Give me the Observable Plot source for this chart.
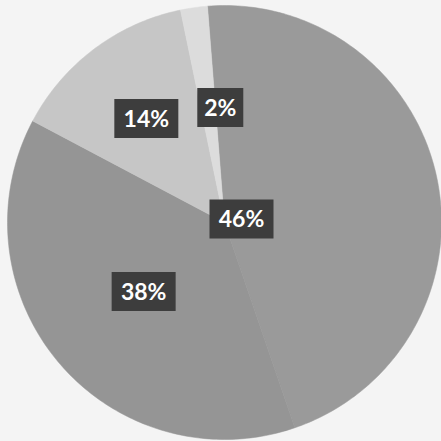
<!DOCTYPE html>
<html><head><meta charset="utf-8">
<script src="https://cdn.jsdelivr.net/npm/d3@7"></script>
<script src="https://cdn.jsdelivr.net/npm/@observablehq/plot@0.6"></script>
<style>
html,body{margin:0;padding:0;background:#f4f4f4;}
</style>
</head><body>
<div id="chart"></div>
<script>
// Data
const categories = ["A", "B", "C", "D"];
const values = [46, 38, 14, 2];
const labels = ["46%", "38%", "14%", "2%"];

// Styling
const colors = ["#9a9a9a", "#959595", "#c6c6c6", "#dcdcdc"];
const labelRadius = [0.08, 0.49, 0.6, 0.53];
const labelAngleShift = [0, 0, 0, 6].map(d => d * Math.PI / 180);
const rotation = -4.5 * Math.PI / 180;

const pie = d3.pie().sort(null).startAngle(rotation).endAngle(rotation + 2 * Math.PI);
const arcs = pie(values);

const polys = [];
arcs.forEach((a, i) => {
  polys.push({k: categories[i], x: 0, y: 0});
  const n = Math.max(4, Math.ceil((a.endAngle - a.startAngle) / (Math.PI / 180)));
  for (let j = 0; j <= n; j++) {
    const t = a.startAngle + (a.endAngle - a.startAngle) * j / n;
    polys.push({k: categories[i], x: Math.sin(t), y: Math.cos(t)});
  }
  polys.push({k: categories[i], x: 0, y: 0});
});

const labelData = arcs.map((a, i) => {
  const m = (a.startAngle + a.endAngle) / 2 + labelAngleShift[i];
  return {k: categories[i], label: labels[i], x: labelRadius[i] * Math.sin(m), y: labelRadius[i] * Math.cos(m), w: labels[i].length > 2 ? 64 : 46};
});

const boxSymbol = {
  draw(ctx, size) {
    const w = Math.sqrt(size / Math.PI);
    const h = 39;
    ctx.moveTo(-w / 2, -h / 2);
    ctx.lineTo(w / 2, -h / 2);
    ctx.lineTo(w / 2, h / 2);
    ctx.lineTo(-w / 2, h / 2);
    ctx.closePath();
  }
};

const chart = Plot.plot({
  width: 441,
  height: 441,
  margin: 0,
  style: {background: "#f4f4f4"},
  x: {domain: [-1, 1], range: [7, 441], axis: null},
  y: {domain: [-1, 1], range: [439, 5], axis: null},
  color: {domain: categories, range: colors},
  r: {type: "identity"},
  marks: [
    Plot.line(polys, {x: "x", y: "y", z: "k", fill: "k", stroke: "k", strokeWidth: 0.5, curve: "linear"}),
    Plot.dot(labelData, {x: "x", y: "y", r: "w", symbol: boxSymbol, fill: "#3d3d3d", stroke: "none"}),
    Plot.text(labelData, {x: "x", y: "y", text: "label", fill: "white", fontSize: 23, fontWeight: "bold", fontFamily: "Lato", dy: 1})
  ]
});
document.getElementById("chart").appendChild(chart);
</script>
</body></html>
